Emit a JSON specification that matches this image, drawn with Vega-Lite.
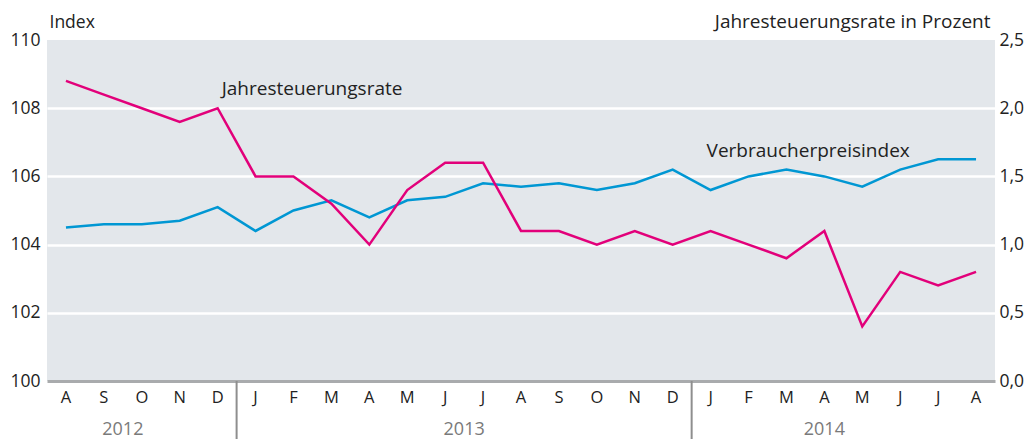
{
  "$schema": "https://vega.github.io/schema/vega-lite/v6.json",
  "width": 948,
  "height": 341,
  "autosize": {"type": "none"},
  "padding": {"left": 47, "top": 40, "right": 34, "bottom": 58},
  "config": {
    "font": "Open Sans",
    "view": {"fill": "#e3e7eb", "stroke": null},
    "axis": {"labelFont": "Open Sans", "titleFont": "Open Sans"}
  },
  "datasets": {
    "main": [
      {"m": "2012-08", "cpi": 104.5, "rate": 2.2},
      {"m": "2012-09", "cpi": 104.6, "rate": 2.1},
      {"m": "2012-10", "cpi": 104.6, "rate": 2.0},
      {"m": "2012-11", "cpi": 104.7, "rate": 1.9},
      {"m": "2012-12", "cpi": 105.1, "rate": 2.0},
      {"m": "2013-01", "cpi": 104.4, "rate": 1.5},
      {"m": "2013-02", "cpi": 105.0, "rate": 1.5},
      {"m": "2013-03", "cpi": 105.3, "rate": 1.3},
      {"m": "2013-04", "cpi": 104.8, "rate": 1.0},
      {"m": "2013-05", "cpi": 105.3, "rate": 1.4},
      {"m": "2013-06", "cpi": 105.4, "rate": 1.6},
      {"m": "2013-07", "cpi": 105.8, "rate": 1.6},
      {"m": "2013-08", "cpi": 105.7, "rate": 1.1},
      {"m": "2013-09", "cpi": 105.8, "rate": 1.1},
      {"m": "2013-10", "cpi": 105.6, "rate": 1.0},
      {"m": "2013-11", "cpi": 105.8, "rate": 1.1},
      {"m": "2013-12", "cpi": 106.2, "rate": 1.0},
      {"m": "2014-01", "cpi": 105.6, "rate": 1.1},
      {"m": "2014-02", "cpi": 106.0, "rate": 1.0},
      {"m": "2014-03", "cpi": 106.2, "rate": 0.9},
      {"m": "2014-04", "cpi": 106.0, "rate": 1.1},
      {"m": "2014-05", "cpi": 105.7, "rate": 0.4},
      {"m": "2014-06", "cpi": 106.2, "rate": 0.8},
      {"m": "2014-07", "cpi": 106.5, "rate": 0.7},
      {"m": "2014-08", "cpi": 106.5, "rate": 0.8}
    ],
    "y2012": [{"year": "2012", "m": "2012-09"}],
    "y2013": [{"year": "2013", "m": "2013-06"}],
    "y2014": [{"year": "2014", "m": "2014-04"}],
    "seps": [
      {"m": "2012-12"},
      {"m": "2013-12"}
    ]
  },
  "layer": [
    {
      "layer": [
        {
          "data": {"name": "main"},
          "mark": {"type": "line", "color": "#0097d3", "strokeWidth": 2.5},
          "encoding": {
            "x": {
              "field": "m", "type": "ordinal", "sort": null, "bandPosition": 0.5,
              "scale": {"type": "band", "paddingInner": 0, "paddingOuter": 0},
              "axis": {
                "title": null, "ticks": false, "domainColor": "#a9abad", "domainWidth": 3,
                "labelFontSize": 16.5, "labelColor": "#222", "labelPadding": 8, "labelAngle": 0,
                "labelExpr": "substring('JFMAMJJASOND', toNumber(slice(datum.value, 5)) - 1, toNumber(slice(datum.value, 5)))"
              }
            },
            "y": {
              "field": "cpi", "type": "quantitative",
              "scale": {"domain": [100, 110], "zero": false, "nice": false},
              "axis": {
                "title": "Index", "titleAngle": 0, "titleAlign": "left", "titleX": 2, "titleY": -13,
                "titleBaseline": "alphabetic", "titleFontSize": 17.5, "titleFontWeight": "normal", "titleColor": "#222",
                "values": [100, 102, 104, 106, 108, 110], "ticks": false, "domain": false,
                "labelFontSize": 17.5, "labelColor": "#222", "labelPadding": 7,
                "grid": true, "gridColor": "white", "gridWidth": 2.5,
                "gridOpacity": {"condition": {"test": "datum.value == 100 || datum.value == 110", "value": 0}, "value": 1}
              }
            }
          }
        },
        {
          "data": {"values": [{"label": "Verbraucherpreisindex", "m": "2014-01", "v": 106.57}]},
          "mark": {"type": "text", "align": "left", "baseline": "alphabetic", "dx": -4, "fontSize": 19, "color": "#222"},
          "encoding": {
            "x": {"field": "m", "type": "ordinal", "bandPosition": 0.5},
            "y": {"field": "v", "type": "quantitative"},
            "text": {"field": "label"}
          }
        },
        {
          "data": {"name": "y2012"},
          "mark": {"type": "text", "align": "center", "baseline": "middle", "fontSize": 18, "color": "#7a7a7a"},
          "encoding": {
            "x": {"field": "m", "type": "ordinal", "bandPosition": 1},
            "y": {"datum": 98.57},
            "text": {"field": "year"}
          }
        },
        {
          "data": {"name": "y2013"},
          "mark": {"type": "text", "align": "center", "baseline": "middle", "fontSize": 18, "color": "#7a7a7a"},
          "encoding": {
            "x": {"field": "m", "type": "ordinal", "bandPosition": 1},
            "y": {"datum": 98.57},
            "text": {"field": "year"}
          }
        },
        {
          "data": {"name": "y2014"},
          "mark": {"type": "text", "align": "center", "baseline": "middle", "fontSize": 18, "color": "#7a7a7a"},
          "encoding": {
            "x": {"field": "m", "type": "ordinal", "bandPosition": 0.5},
            "y": {"datum": 98.57},
            "text": {"field": "year"}
          }
        },
        {
          "data": {"name": "seps"},
          "mark": {"type": "rule", "color": "#8e8e8e", "strokeWidth": 2, "clip": false},
          "encoding": {
            "x": {"field": "m", "type": "ordinal", "bandPosition": 1},
            "y": {"datum": 100},
            "y2": {"datum": 98.25}
          }
        }
      ]
    },
    {
      "layer": [
        {
          "data": {"name": "main"},
          "mark": {"type": "line", "color": "#e2007a", "strokeWidth": 2.5},
          "encoding": {
            "x": {"field": "m", "type": "ordinal", "sort": null, "bandPosition": 0.5},
            "y": {
              "field": "rate", "type": "quantitative",
              "scale": {"domain": [0, 2.5], "nice": false},
              "axis": {
                "orient": "right",
                "title": "Jahresteuerungsrate in Prozent", "titleAngle": 0, "titleAlign": "right", "titleX": -5, "titleY": -13,
                "titleBaseline": "alphabetic", "titleFontSize": 19, "titleFontWeight": "normal", "titleColor": "#222",
                "values": [0, 0.5, 1, 1.5, 2, 2.5], "ticks": false, "domain": false, "grid": false,
                "labelFontSize": 17.5, "labelColor": "#222", "labelPadding": 4,
                "labelExpr": "replace(format(datum.value, '.1f'), '.', ',')"
              }
            }
          }
        },
        {
          "data": {"values": [{"label": "Jahresteuerungsrate", "m": "2012-12", "v": 2.1}]},
          "mark": {"type": "text", "align": "left", "baseline": "alphabetic", "dx": 4, "fontSize": 19, "color": "#222"},
          "encoding": {
            "x": {"field": "m", "type": "ordinal", "bandPosition": 0.5},
            "y": {"field": "v", "type": "quantitative"},
            "text": {"field": "label"}
          }
        }
      ]
    }
  ],
  "resolve": {"scale": {"y": "independent"}}
}
